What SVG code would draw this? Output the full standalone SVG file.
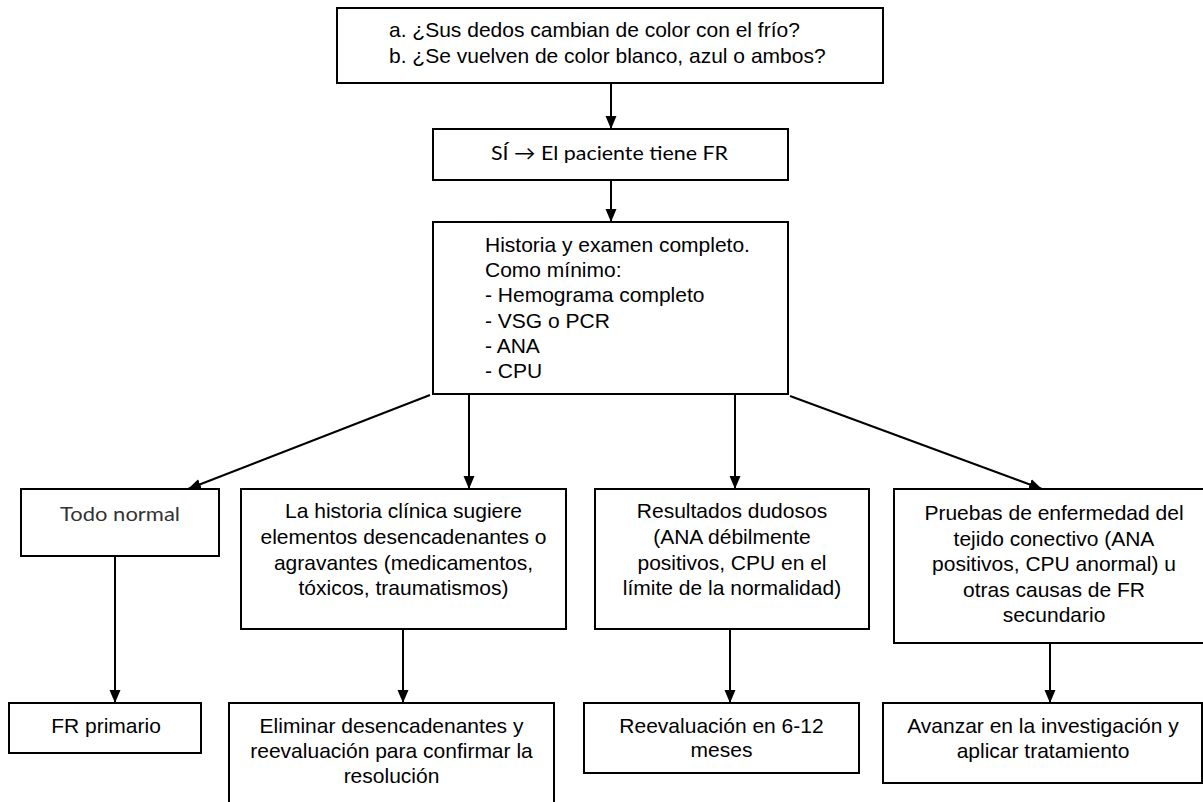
<svg xmlns="http://www.w3.org/2000/svg" width="1203" height="802" viewBox="0 0 1203 802">
<style>
.box{fill:#fff;stroke:#000;stroke-width:2}
.t{font-family:"Liberation Sans",Arial,sans-serif;font-size:21px;fill:#000}
.c{text-anchor:middle}
.cal{font-family:Lato,"Open Sans",sans-serif;font-size:20px}
.con line{stroke:#000;stroke-width:2;marker-end:url(#ah)}
</style>
<defs>
<marker id="ah" markerUnits="userSpaceOnUse" markerWidth="14" markerHeight="12" refX="13" refY="6" orient="auto">
<path d="M0,0.5 L13,6 L0,11.5 z" fill="#000"/>
</marker>
</defs>
<rect width="1203" height="802" fill="#fff"/>

<g id="n-pregunta">
<rect class="box" x="337" y="8" width="546" height="75"/>
<text class="t" x="389" y="37">a. ¿Sus dedos cambian de color con el frío?</text>
<text class="t" x="389" y="63">b. ¿Se vuelven de color blanco, azul o ambos?</text>
</g>

<g id="n-si">
<rect class="box" x="433" y="129" width="355" height="51"/>
<text class="cal c" x="609.5" y="160" fill="#000" textLength="237" lengthAdjust="spacingAndGlyphs">SÍ → El paciente tiene FR</text>
</g>

<g id="n-historia">
<rect class="box" x="433" y="222" width="355" height="172"/>
<text class="t" x="485" y="252">Historia y examen completo.</text>
<text class="t" x="485" y="277">Como mínimo:</text>
<text class="t" x="485" y="302">- Hemograma completo</text>
<text class="t" x="485" y="328">- VSG o PCR</text>
<text class="t" x="485" y="353">- ANA</text>
<text class="t" x="485" y="378">- CPU</text>
</g>

<g id="n-normal">
<rect class="box" x="21" y="489" width="198" height="67"/>
<text class="cal c" x="120" y="521" fill="#333" textLength="120" lengthAdjust="spacingAndGlyphs">Todo normal</text>
</g>

<g id="n-clinica">
<rect class="box" x="241" y="489" width="325" height="140"/>
<text class="t c" x="403.5" y="518">La historia clínica sugiere</text>
<text class="t c" x="403.5" y="544">elementos desencadenantes o</text>
<text class="t c" x="403.5" y="570">agravantes (medicamentos,</text>
<text class="t c" x="403.5" y="595">tóxicos, traumatismos)</text>
</g>

<g id="n-dudosos">
<rect class="box" x="595" y="489" width="274" height="140"/>
<text class="t c" x="732" y="518">Resultados dudosos</text>
<text class="t c" x="732" y="544">(ANA débilmente</text>
<text class="t c" x="732" y="570">positivos, CPU en el</text>
<text class="t c" x="732" y="595">límite de la normalidad)</text>
</g>

<g id="n-pruebas">
<rect class="box" x="894" y="489" width="320" height="154"/>
<text class="t c" x="1054" y="520">Pruebas de enfermedad del</text>
<text class="t c" x="1054" y="546">tejido conectivo (ANA</text>
<text class="t c" x="1054" y="571">positivos, CPU anormal) u</text>
<text class="t c" x="1054" y="597">otras causas de FR</text>
<text class="t c" x="1054" y="622">secundario</text>
</g>

<g id="n-primario">
<rect class="box" x="9" y="703" width="192" height="50"/>
<text class="t c" x="106" y="733">FR primario</text>
</g>

<g id="n-eliminar">
<rect class="box" x="229" y="703" width="325" height="110"/>
<text class="t c" x="391.5" y="733">Eliminar desencadenantes y</text>
<text class="t c" x="391.5" y="758">reevaluación para confirmar la</text>
<text class="t c" x="391.5" y="783">resolución</text>
</g>

<g id="n-reevaluacion">
<rect class="box" x="584" y="703" width="275" height="70"/>
<text class="t c" x="721.5" y="733">Reevaluación en 6-12</text>
<text class="t c" x="721.5" y="757">meses</text>
</g>

<g id="n-avanzar">
<rect class="box" x="883" y="703" width="319" height="80"/>
<text class="t c" x="1043" y="733">Avanzar en la investigación y</text>
<text class="t c" x="1043" y="758">aplicar tratamiento</text>
</g>

<g id="connectors" class="con">
<line x1="611" y1="83" x2="611" y2="129"/>
<line x1="611" y1="180" x2="611" y2="222"/>
<line x1="430" y1="395" x2="188" y2="489"/>
<line x1="469" y1="394" x2="469" y2="489"/>
<line x1="735" y1="394" x2="735" y2="489"/>
<line x1="790" y1="396" x2="1042" y2="489"/>
<line x1="115" y1="556" x2="115" y2="703"/>
<line x1="403" y1="629" x2="403" y2="703"/>
<line x1="730" y1="629" x2="730" y2="703"/>
<line x1="1050" y1="643" x2="1050" y2="703"/>
</g>
</svg>
